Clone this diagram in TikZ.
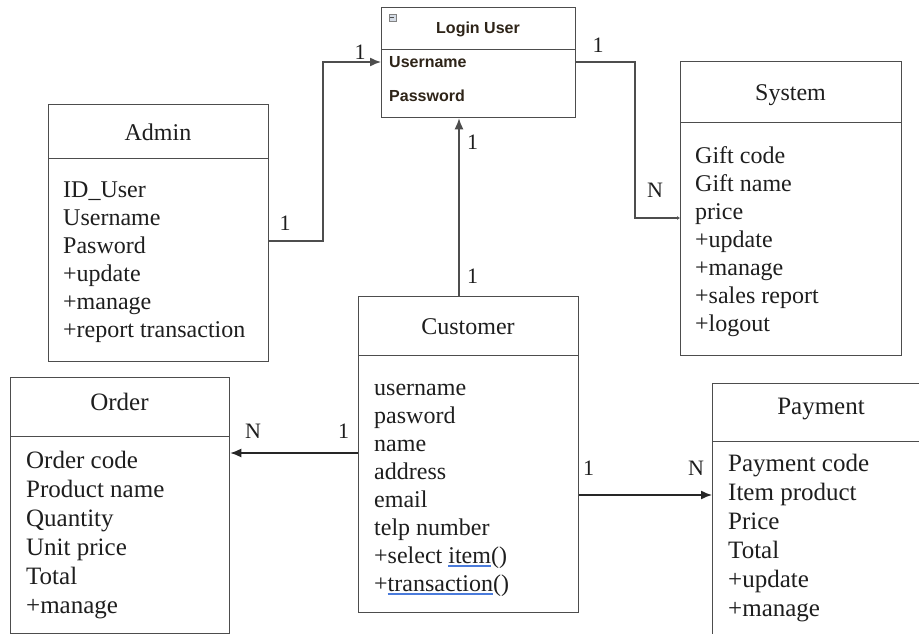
\documentclass[tikz,border=0pt]{standalone}
\usepackage{fontspec}
\setmainfont{Liberation Serif}
\newfontfamily\uisans{Liberation Sans}
\usetikzlibrary{arrows.meta}
\definecolor{edge}{HTML}{4D4D4D}
\definecolor{ink}{HTML}{1E1E1E}
\definecolor{squig}{HTML}{4A7BDB}
\definecolor{loginink}{HTML}{2E2418}
\definecolor{iconfill}{HTML}{D5DCE6}
% blue spell-check mark under a word
\newsavebox\spellbox
\newcommand\spellmark[1]{\sbox\spellbox{#1}\rlap{\textcolor{squig}{\rule[-3.5pt]{\wd\spellbox}{1.5pt}}}\usebox\spellbox}

\begin{document}
\begin{tikzpicture}[x=1pt,y=-1pt,
  box/.style={draw=edge, line width=1.3pt, fill=white, inner sep=0, anchor=north west},
  ttl/.style={font=\fontsize{24}{28}\selectfont, text=ink, anchor=base, inner sep=0},
  ttlb/.style={font=\fontsize{25}{29}\selectfont, text=ink, anchor=base, inner sep=0},
  items/.style={font=\fontsize{24}{28}\selectfont, text=ink, align=left, anchor=north west, inner sep=0},
  itemsb/.style={font=\fontsize{25}{29}\selectfont, text=ink, align=left, anchor=north west, inner sep=0},
  conn/.style={draw=black!85, line width=1.4pt, -{Latex[length=11pt,width=9pt]}},
  tinytip/.style={draw=edge, line width=1.3pt, -{Latex[length=3pt,width=4pt]}},
  card/.style={font=\fontsize{22}{26}\selectfont, text=ink, anchor=base, inner sep=0},
  login/.style={font=\uisans\bfseries\fontsize{16}{20}\selectfont, text=loginink, inner sep=0}
]
\useasboundingbox (0,0) rectangle (919,634);

% ---------- Login User ----------
\node[box, minimum width=194, minimum height=42] (loginH) at (381,7) {};
\node[box, minimum width=194, minimum height=68] (loginB) at (381,49) {};
\node[login, anchor=base] (loginT) at (478,33.5) {Login User};
\node[draw=edge!70, line width=0.5pt, fill=iconfill, minimum size=7pt, inner sep=0] (loginIcon) at (392.5,17.5) {};
\draw[edge, line width=1pt] (loginIcon.west) ++(1.5,0) -- ++(4,0);
\node[login, anchor=base west] (loginU) at (389,68) {Username};
\node[login, anchor=base west] (loginP) at (389,102) {Password};

% ---------- Admin ----------
\node[box, minimum width=220, minimum height=54] (adminH) at (48,104) {};
\node[box, minimum width=220, minimum height=203] (adminB) at (48,158) {};
\node[ttl] (adminT) at (158,140) {Admin};
\node[items] (adminL) at (63,177.4) {\strut ID\_User\\Username\\Pasword\\+update\\+manage\\+report transaction};

% ---------- System ----------
\node[box, minimum width=221, minimum height=61] (sysH) at (680,61) {};
\node[box, minimum width=221, minimum height=233] (sysB) at (680,122) {};
\node[ttl] (sysT) at (790.5,101) {System};
\node[items] (sysL) at (695,143.4) {\strut Gift code\\Gift name\\price\\+update\\+manage\\+sales report\\+logout};

% ---------- Customer ----------
\node[box, minimum width=220, minimum height=59] (custH) at (358,296) {};
\node[box, minimum width=220, minimum height=257] (custB) at (358,355) {};
\node[ttl] (custT) at (468,334) {Customer};
\node[items] (custL) at (374,375.4) {\strut username\\pasword\\name\\address\\email\\telp number\\+select \spellmark{item}()\\+\spellmark{transaction}()};

% ---------- Order ----------
\node[box, minimum width=219, minimum height=59] (orderH) at (10,377) {};
\node[box, minimum width=219, minimum height=197] (orderB) at (10,436) {};
\node[ttlb] (orderT) at (119.5,410) {Order};
\node[itemsb] (orderL) at (26,447.7) {\strut Order code\\Product name\\Quantity\\Unit price\\Total\\+manage};

% ---------- Payment (runs past the page edge) ----------
\node[box, minimum width=223, minimum height=58] (payH) at (712,383) {};
\node[box, minimum width=223, minimum height=210] (payB) at (712,441) {};
\node[ttlb] (payT) at (821,414) {Payment};
\node[itemsb] (payL) at (728,450.7) {\strut Payment code\\Item product\\Price\\Total\\+update\\+manage};

% ---------- connectors ----------
\coordinate (a1) at (323,241);
\coordinate (a2) at (323,62);
\draw[conn, draw=edge] (adminB.east |- a1) -- (a1) -- (a2) -- (loginB.west |- a2);
\node[card] (a1n) at (285,230) {1};
\node[card] (a2n) at (360,60) {1};

\coordinate (b1) at (635,62);
\coordinate (b2) at (635,218);
\draw[tinytip] (loginB.east |- b1) -- (b1) -- (b2) -- (sysB.west |- b2);
\node[card] (b1n) at (598,53) {1};
\node[card] (b2n) at (655,197) {N};

\coordinate (c1) at (459,200);
\draw[conn, draw=edge] (custH.north -| c1) -- (loginB.south -| c1);
\node[card] (c1n) at (472.5,149) {1};
\node[card] (c2n) at (472.5,283) {1};

\coordinate (d1) at (300,453);
\draw[conn] (custB.west |- d1) -- (orderB.east |- d1);
\node[card] (d1n) at (253,438) {N};
\node[card] (d2n) at (343.5,438) {1};

\coordinate (e1) at (640,495);
\draw[conn] (custB.east |- e1) -- (payB.west |- e1);
\node[card] (e1n) at (588.5,475) {1};
\node[card] (e2n) at (696,475) {N};
\end{tikzpicture}
\end{document}
